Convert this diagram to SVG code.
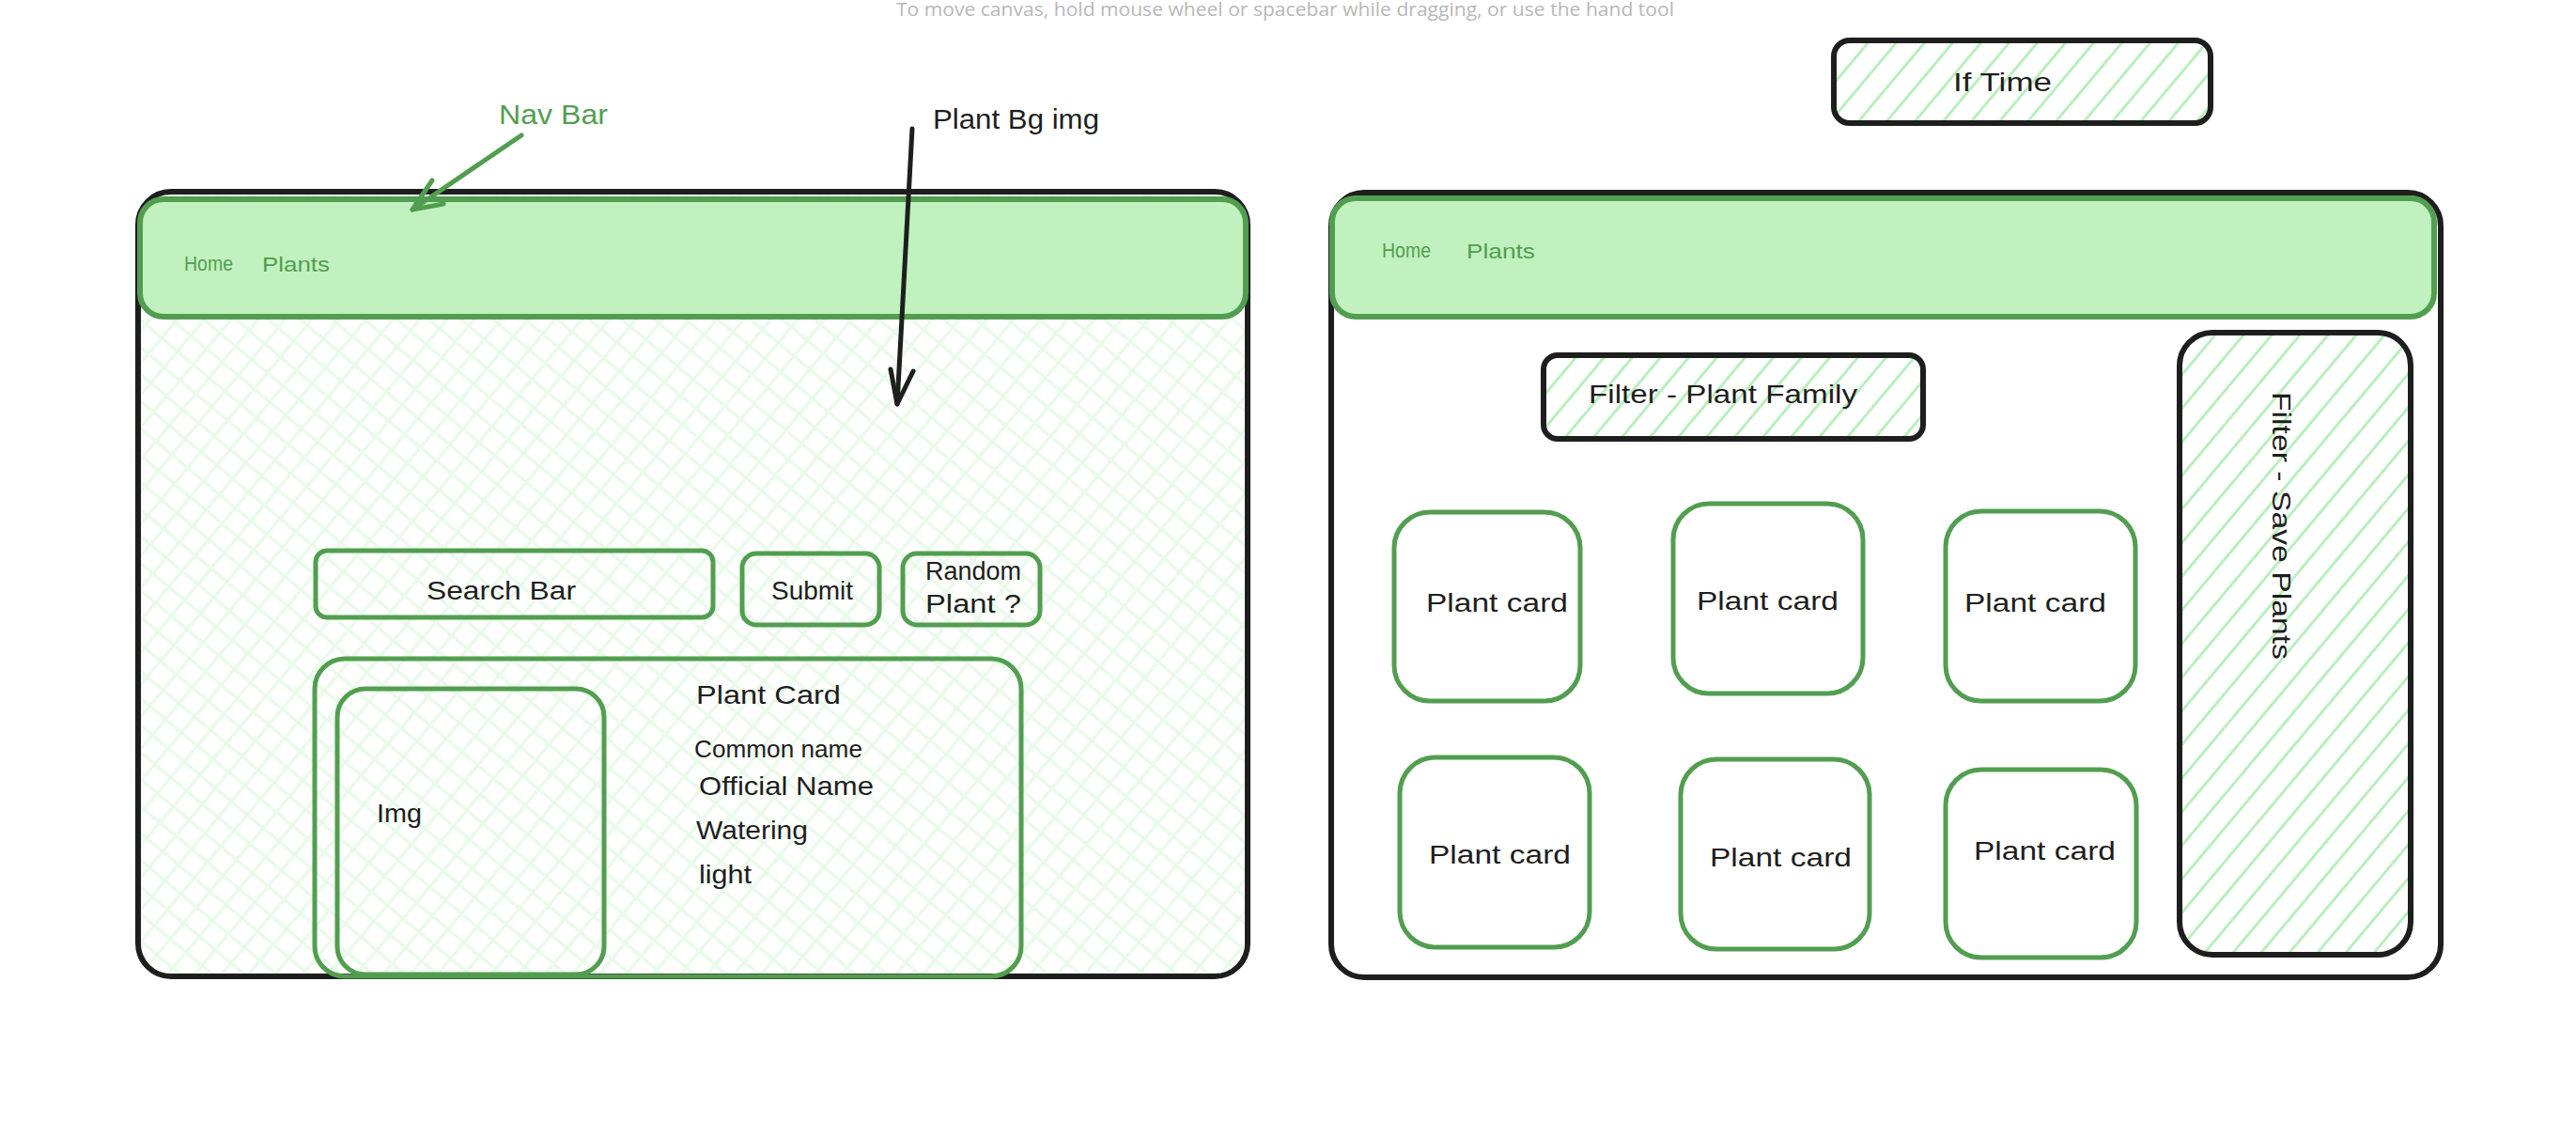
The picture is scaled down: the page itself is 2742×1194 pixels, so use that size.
<svg xmlns="http://www.w3.org/2000/svg" width="2742" height="1194" viewBox="0 0 2742 1194">
<defs>
  <pattern id="xhatch" patternUnits="userSpaceOnUse" width="22" height="22" patternTransform="rotate(40)">
    <line x1="0" y1="11" x2="22" y2="11" stroke="#eafaea" stroke-width="3.5"/>
    <line x1="11" y1="0" x2="11" y2="22" stroke="#eafaea" stroke-width="3.5"/>
  </pattern>
  <pattern id="hatch" patternUnits="userSpaceOnUse" width="23" height="23" patternTransform="rotate(-50)">
    <line x1="0" y1="11.5" x2="23" y2="11.5" stroke="#b9efbd" stroke-width="3"/>
  </pattern>
</defs>
<style>
  .win { fill: #ffffff; stroke: #1e1e1e; stroke-width: 6; }
  .nav { fill: #c0f1bf; stroke: #529e50; stroke-width: 6; }
  .g { fill: none; stroke: #529e50; stroke-width: 5; }
  .b { fill: url(#hatch); stroke: #1e1e1e; stroke-width: 6; }
  .t { font-family: "Liberation Sans", Arial, sans-serif; font-size: 28px; fill: #1e1e1e; }
  .nt { font-family: "Liberation Sans", Arial, sans-serif; font-size: 22px; fill: #529e50; }
  .hint { font-family: "Open Sans", "Liberation Sans", sans-serif; font-size: 20px; fill: #b8b8b8; }
  .arrow { fill: none; stroke-width: 5; stroke-linecap: round; stroke-linejoin: round; }
</style>
<rect width="2742" height="1194" fill="#ffffff"/>

<text class="hint" x="954" y="17" textLength="828" lengthAdjust="spacingAndGlyphs">To move canvas, hold mouse wheel or spacebar while dragging, or use the hand tool</text>

<g id="left-window">
  <rect class="win" x="147" y="204" width="1181" height="835" rx="35"/>
  <rect x="150" y="207" width="1175" height="829" rx="33" fill="url(#xhatch)"/>
</g>
<g id="left-navbar">
  <rect class="nav" x="149" y="212" width="1177" height="125" rx="25"/>
  <text class="nt" x="196" y="288" textLength="52" lengthAdjust="spacingAndGlyphs">Home</text>
  <text class="nt" x="279" y="289" textLength="72" lengthAdjust="spacingAndGlyphs">Plants</text>
</g>
<g id="search-bar">
  <rect class="g" x="336" y="586" width="423" height="71" rx="12"/>
  <text class="t" x="454" y="638" textLength="159" lengthAdjust="spacingAndGlyphs">Search Bar</text>
</g>
<g id="submit">
  <rect class="g" x="790" y="589" width="146" height="76" rx="15"/>
  <text class="t" x="821" y="638" textLength="87" lengthAdjust="spacingAndGlyphs">Submit</text>
</g>
<g id="random-plant">
  <rect class="g" x="961" y="589" width="146" height="76" rx="15"/>
  <text class="t" x="985" y="617" textLength="102" lengthAdjust="spacingAndGlyphs">Random</text>
  <text class="t" x="985" y="652" textLength="102" lengthAdjust="spacingAndGlyphs">Plant ?</text>
</g>
<g id="plant-card-detail">
  <rect class="g" x="335" y="701" width="752" height="338" rx="32"/>
  <text class="t" x="741" y="749" textLength="154" lengthAdjust="spacingAndGlyphs">Plant Card</text>
  <text class="t" x="739" y="806" textLength="179" lengthAdjust="spacingAndGlyphs" style="font-size:25px">Common name</text>
  <text class="t" x="744" y="846" textLength="186" lengthAdjust="spacingAndGlyphs">Official Name</text>
  <text class="t" x="741" y="893" textLength="119" lengthAdjust="spacingAndGlyphs">Watering</text>
  <text class="t" x="744" y="940" textLength="56" lengthAdjust="spacingAndGlyphs">light</text>
</g>
<g id="img">
  <rect class="g" x="359" y="733" width="284" height="304" rx="30"/>
  <text class="t" x="401" y="875" textLength="48" lengthAdjust="spacingAndGlyphs">Img</text>
</g>
<g id="nav-bar-label">
  <text class="t" x="531" y="132" textLength="116" lengthAdjust="spacingAndGlyphs" style="fill:#529e50;font-size:30px">Nav Bar</text>
</g>
<g id="plant-bg-label">
  <text class="t" x="993" y="137" textLength="177" lengthAdjust="spacingAndGlyphs" style="font-size:30px">Plant Bg img</text>
</g>

<g id="if-time">
  <rect class="b" x="1952" y="43" width="401" height="88" rx="17"/>
  <text class="t" x="2079" y="97" textLength="105" lengthAdjust="spacingAndGlyphs">If Time</text>
</g>

<g id="right-window">
  <rect class="win" x="1417" y="205" width="1181" height="835" rx="35"/>
</g>
<g id="right-navbar">
  <rect class="nav" x="1418" y="211" width="1173" height="126" rx="25"/>
  <text class="nt" x="1471" y="274" textLength="52" lengthAdjust="spacingAndGlyphs">Home</text>
  <text class="nt" x="1561" y="275" textLength="73" lengthAdjust="spacingAndGlyphs">Plants</text>
</g>
<g id="filter-plant-family">
  <rect class="b" x="1643" y="378" width="404" height="89" rx="15"/>
  <text class="t" x="1691" y="429" textLength="286" lengthAdjust="spacingAndGlyphs">Filter - Plant Family</text>
</g>
<g id="filter-save-plants">
  <rect class="b" x="2320" y="354" width="246" height="662" rx="35"/>
  <text class="t" transform="translate(2419,417) rotate(90)" x="0" y="0" textLength="285" lengthAdjust="spacingAndGlyphs">Filter - Save Plants</text>
</g>
<g id="card-1">
  <rect class="g" x="1484" y="545" width="198" height="201" rx="38"/>
  <text class="t" x="1518" y="651" textLength="151" lengthAdjust="spacingAndGlyphs">Plant card</text>
</g>
<g id="card-2">
  <rect class="g" x="1781" y="536" width="202" height="202" rx="38"/>
  <text class="t" x="1806" y="649" textLength="151" lengthAdjust="spacingAndGlyphs">Plant card</text>
</g>
<g id="card-3">
  <rect class="g" x="2071" y="544" width="202" height="202" rx="38"/>
  <text class="t" x="2091" y="651" textLength="151" lengthAdjust="spacingAndGlyphs">Plant card</text>
</g>
<g id="card-4">
  <rect class="g" x="1490" y="806" width="202" height="202" rx="38"/>
  <text class="t" x="1521" y="919" textLength="151" lengthAdjust="spacingAndGlyphs">Plant card</text>
</g>
<g id="card-5">
  <rect class="g" x="1789" y="808" width="201" height="202" rx="38"/>
  <text class="t" x="1820" y="922" textLength="151" lengthAdjust="spacingAndGlyphs">Plant card</text>
</g>
<g id="card-6">
  <rect class="g" x="2071" y="819" width="203" height="200" rx="38"/>
  <text class="t" x="2101" y="915" textLength="151" lengthAdjust="spacingAndGlyphs">Plant card</text>
</g>

<g id="connectors">
  <g stroke="#529e50" class="arrow">
    <path d="M555 144 L439 223"/>
    <path d="M460 192 L439 223 L472 217"/>
  </g>
  <g stroke="#1e1e1e" class="arrow">
    <path d="M971 137 Q963 280 955 430"/>
    <path d="M948 393 L955 430 L972 395"/>
  </g>
</g>
</svg>
